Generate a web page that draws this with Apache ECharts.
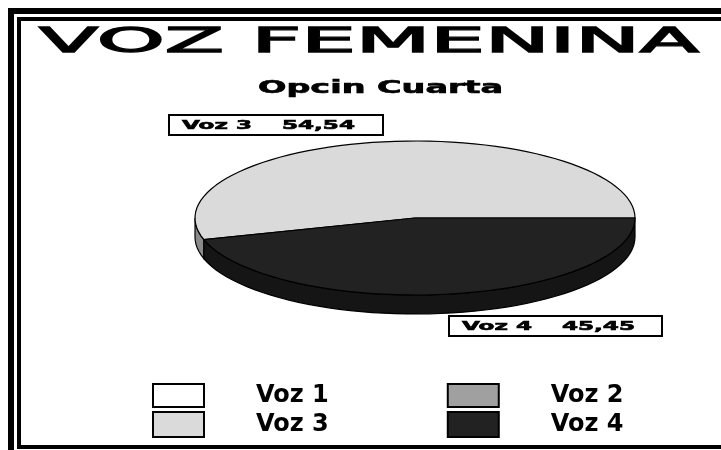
<!DOCTYPE html>
<html>
<head>
<meta charset="utf-8">
<script src="https://cdn.jsdelivr.net/npm/echarts@6/dist/echarts.min.js"></script>
<style>
html,body{margin:0;padding:0;background:#fff;}
#chart{width:721px;height:450px;}
</style>
</head>
<body>
<div id="chart"></div>
<script>
// ---- data ----
const titleText = 'VOZ FEMENINA';
const subtitleText = 'Opcin Cuarta';
const categories = ['Voz 1', 'Voz 2', 'Voz 3', 'Voz 4'];
const values = [0, 0, 54.54, 45.45];

// ---- styles / layout ----
const topColors = ['#ffffff', '#a0a0a0', '#dadada', '#222222'];
const sideColors = ['#e0e0e0', '#707070', '#8a8a8a', '#151515'];
const PIE = { cx: 415, cy: 218, rx: 220, ry: 77, depth: 19 };
// label box per category: [x, y, w, h, nameX, valueRightX]
const labelBoxes = [null, null, [169, 115, 214, 20, 182, 355], [449, 316, 213, 20, 462, 635]];

function measure(text, font) {
  const c = document.createElement('canvas').getContext('2d');
  c.font = font;
  return c.measureText(text).width;
}
const titleFont = 'normal 33px "DejaVu Sans"';
const titleSx = 660 / measure(titleText, titleFont);
const subFont = 'bold 17px "DejaVu Sans"';
const subSx = 245 / measure(subtitleText, subFont);
const labFont = 'bold 12px "DejaVu Sans"';
const labSx = 70 / measure('Voz 3', labFont);

function fmt(v) { return v.toFixed(2).replace('.', ','); }

const total = values.reduce((a, b) => a + b, 0);

function ellPt(t, dy) {
  return [PIE.cx + PIE.rx * Math.cos(t), PIE.cy - PIE.ry * Math.sin(t) + (dy || 0)];
}
function arc(a0, a1, dy) {
  const pts = [];
  const n = Math.max(2, Math.ceil((a1 - a0) / (Math.PI * 2) * 120));
  for (let k = 0; k <= n; k++) pts.push(ellPt(a0 + (a1 - a0) * k / n, dy));
  return pts;
}

function makeRender(i) {
  return function (params, api) {
    const v = api.value(0);
    const children = [];
    if (!(v > 0)) return { type: 'group', children: children };
    let before = 0;
    for (let j = 0; j < i; j++) before += values[j];
    const a0 = before / total * Math.PI * 2;
    const a1 = a0 + v / total * Math.PI * 2;
    // visible side wall (lower half of ellipse)
    const s = Math.max(a0, Math.PI), e = Math.min(a1, Math.PI * 2);
    if (e > s) {
      const pts = arc(s, e, 0).concat(arc(s, e, PIE.depth).reverse());
      children.push({ type: 'polygon', shape: { points: pts },
        style: { fill: sideColors[i], stroke: '#000', lineWidth: 1.2 } });
    }
    // top face
    const topPts = [[PIE.cx, PIE.cy]].concat(arc(a0, a1, 0));
    children.push({ type: 'polygon', shape: { points: topPts },
      style: { fill: topColors[i], stroke: '#000', lineWidth: 1.2, lineJoin: 'round' } });
    // label box
    const b = labelBoxes[i];
    if (b) {
      children.push({ type: 'rect', shape: { x: b[0], y: b[1], width: b[2], height: b[3] },
        style: { fill: '#fff', stroke: '#000', lineWidth: 2 } });
      children.push({ type: 'text', x: b[4], y: b[1] + b[3] / 2 + 1, scaleX: labSx,
        style: { text: categories[i], font: labFont, fill: '#000', stroke: '#000', lineWidth: 0.6,
          align: 'left', verticalAlign: 'middle' } });
      children.push({ type: 'text', x: b[5], y: b[1] + b[3] / 2 + 1, scaleX: labSx,
        style: { text: fmt(v), font: labFont, fill: '#000', stroke: '#000', lineWidth: 0.6,
          align: 'right', verticalAlign: 'middle' } });
    }
    return { type: 'group', children: children };
  };
}

const legendText = { fontFamily: 'DejaVu Sans', fontWeight: 'bold', fontSize: 24, color: '#000',
  padding: [0, 0, 0, 47], width: 105 };
const legendBase = { orient: 'horizontal', left: 152, padding: 0, itemWidth: 51, itemGap: 118,
  icon: 'rect', selectedMode: false, itemStyle: { borderColor: '#000', borderWidth: 2 },
  textStyle: legendText };

const chart = echarts.init(document.getElementById('chart'), null, { renderer: 'canvas' });
chart.setOption({
  animation: false,
  backgroundColor: '#fff',
  graphic: [
    { type: 'rect', silent: true, shape: { x: 11, y: 11, width: 730, height: 470 },
      style: { fill: 'none', stroke: '#000', lineWidth: 6 } },
    { type: 'rect', silent: true, shape: { x: 19, y: 19, width: 720, height: 428 },
      style: { fill: 'none', stroke: '#000', lineWidth: 4 } },
    { type: 'text', x: 39, y: 43, scaleX: titleSx,
      style: { text: titleText, font: titleFont, fill: '#000', stroke: '#000', lineWidth: 1.3,
        align: 'left', verticalAlign: 'middle' } },
    { type: 'text', x: 258, y: 89, scaleX: subSx,
      style: { text: subtitleText, font: subFont, fill: '#000', stroke: '#000', lineWidth: 0.6,
        align: 'left', verticalAlign: 'middle' } }
  ],
  legend: [
    Object.assign({}, legendBase, { top: 383, itemHeight: 23, data: [categories[0], categories[1]] }),
    Object.assign({}, legendBase, { top: 411, itemHeight: 25, data: [categories[2], categories[3]] })
  ],
  series: categories.map((name, i) => ({
    type: 'custom',
    name: name,
    coordinateSystem: 'none',
    data: [values[i]],
    itemStyle: { color: topColors[i] },
    renderItem: makeRender(i)
  }))
});
</script>
</body>
</html>
